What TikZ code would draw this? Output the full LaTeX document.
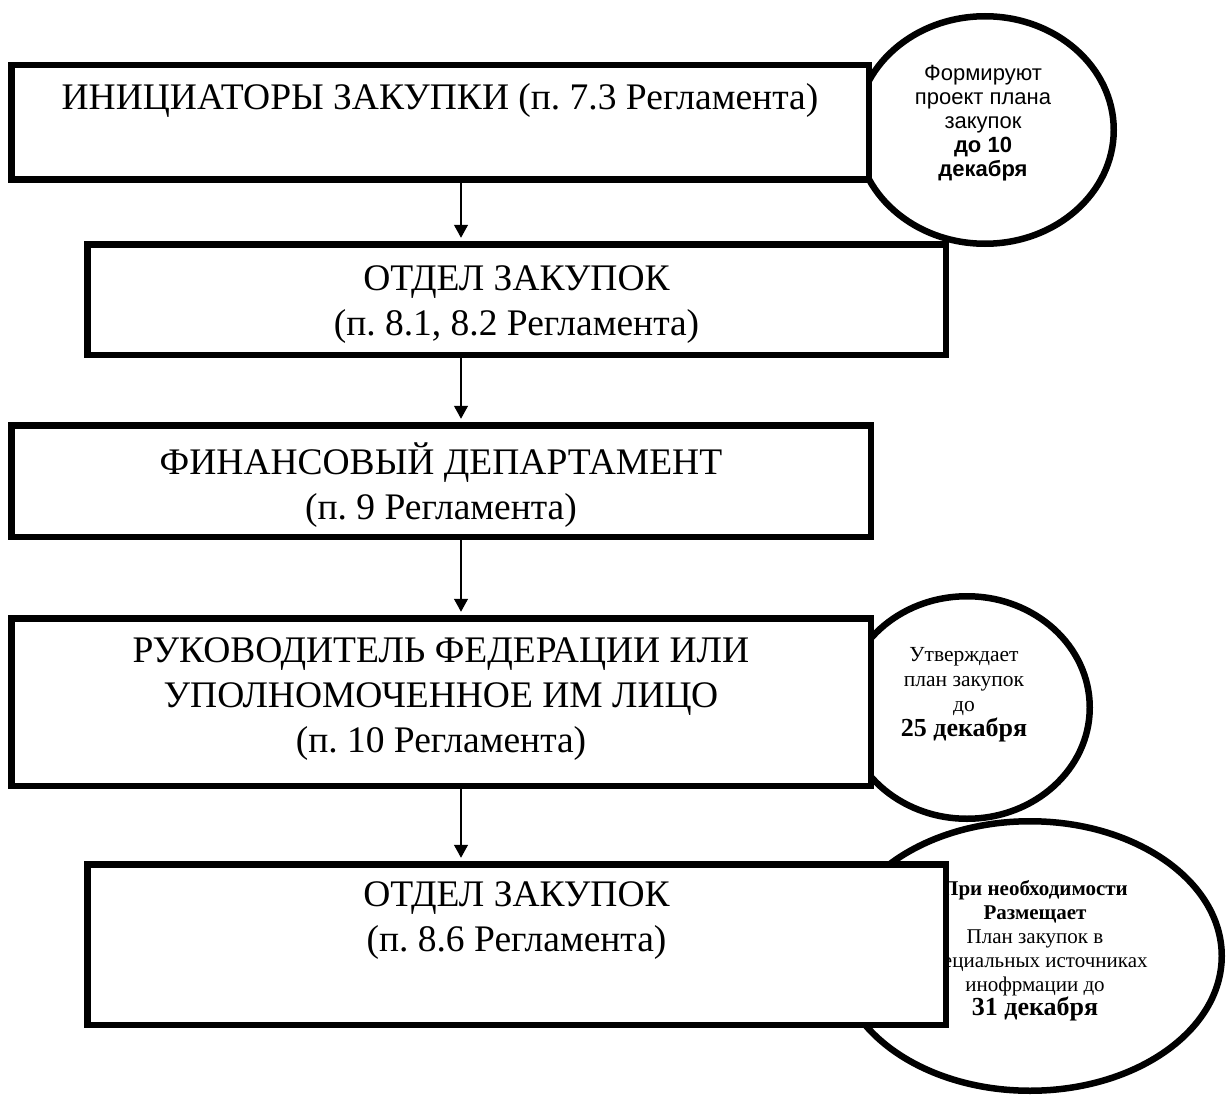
\documentclass[tikz,border=0pt]{standalone}
\usepackage{fontspec}
\setmainfont{Liberation Serif}
\newfontfamily\arialf{Liberation Sans}
\usetikzlibrary{arrows.meta,shapes.geometric}
\frenchspacing
\begin{document}
\begin{tikzpicture}[x=1pt,y=-1pt,
  boxnode/.style={draw, line width=6.5pt, fill=white, inner sep=0pt, rectangle},
  ovalnode/.style={draw, line width=6.5pt, fill=white, inner sep=0pt, ellipse},
  boxtext/.style={align=center, inner sep=0pt, font=\fontsize{37.5}{45}\selectfont},
  ovaltext/.style={align=center, inner sep=0pt},
  arr/.style={line width=1.3pt, -{Triangle[width=14pt,length=13pt]}, shorten >=3.25pt, shorten <=0pt}
]
\useasboundingbox (0,0) rectangle (1227,1097);
\fill[white] (0,0) rectangle (1227,1097);

% ellipse 1 (behind box 1 and box 2)
\node[ovalnode, minimum width=257.5pt, minimum height=227.5pt] (e1) at (985,130) {};
\node[ovaltext, font=\arialf\fontsize{22}{24}\selectfont] (te1) at (983,123.5)
  {Формируют\\проект плана\\закупок\\\textbf{до 10}\\\textbf{декабря}};

% box 1
\node[boxnode, minimum width=857.5pt, minimum height=114.5pt] (b1) at (440,122.5) {};
\node[boxtext] (t1) at (440,100) {ИНИЦИАТОРЫ ЗАКУПКИ (п. 7.3 Регламента)};

% box 2
\node[boxnode, minimum width=858.5pt, minimum height=110.5pt] (b2) at (516.5,299.5) {};
\node[boxtext] (t2) at (516.5,305) {ОТДЕЛ ЗАКУПОК\\(п. 8.1, 8.2 Регламента)};

% box 3
\node[boxnode, minimum width=859.5pt, minimum height=111.5pt] (b3) at (441,481) {};
\node[boxtext] (t3) at (441,485) {ФИНАНСОВЫЙ ДЕПАРТАМЕНТ\\(п. 9 Регламента)};

% ellipse 3 (behind box 5)
\node[ovalnode, minimum width=383.5pt, minimum height=269.5pt] (e3) at (1030,956) {};
\node[ovaltext, font=\fontsize{21}{24}\selectfont] (te3) at (1035,951)
  {\textbf{При необходимости}\\\textbf{Размещает}\\План закупок в\\специальных источниках\\инофрмации до\\{\bfseries\fontsize{26}{28}\selectfont 31 декабря}};

% ellipse 2 (behind box 4)
\node[ovalnode, minimum width=245.5pt, minimum height=222.5pt] (e2) at (967,707.5) {};
\node[ovaltext, font=\fontsize{21.5}{25}\selectfont] (te2) at (964,695)
  {Утверждает\\план закупок\\до\\{\bfseries\fontsize{26}{28}\selectfont 25 декабря}};

% box 4
\node[boxnode, minimum width=859.5pt, minimum height=167.5pt] (b4) at (441,702) {};
\node[boxtext] (t4) at (441,699) {РУКОВОДИТЕЛЬ ФЕДЕРАЦИИ ИЛИ\\УПОЛНОМОЧЕННОЕ ИМ ЛИЦО\\(п. 10 Регламента)};

% box 5
\node[boxnode, minimum width=858.5pt, minimum height=160.5pt] (b5) at (516.5,944.5) {};
\node[boxtext] (t5) at (516.5,921) {ОТДЕЛ ЗАКУПОК\\(п. 8.6 Регламента)};

% arrows
\coordinate (ax) at (461,0);
\draw[arr] (b1.south -| ax) -- (b2.north -| ax);
\draw[arr] (b2.south -| ax) -- (b3.north -| ax);
\draw[arr] (b3.south -| ax) -- (b4.north -| ax);
\draw[arr] (b4.south -| ax) -- (b5.north -| ax);
\end{tikzpicture}
\end{document}
